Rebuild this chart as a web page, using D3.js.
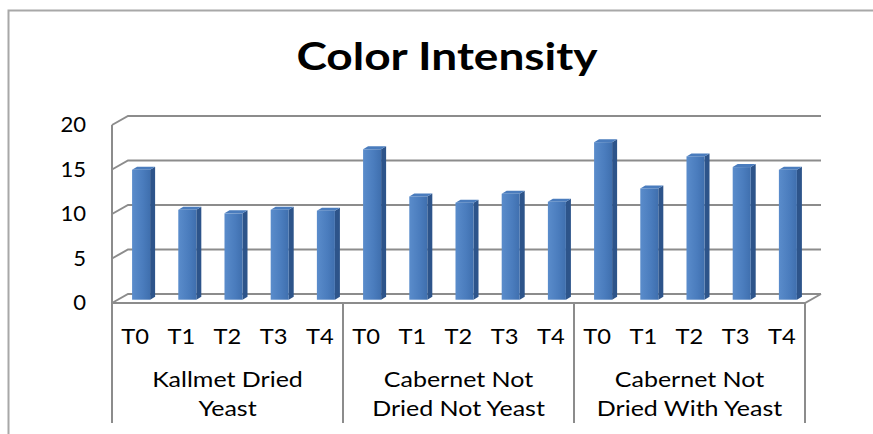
<!DOCTYPE html>
<html>
<head>
<meta charset="utf-8">
<script src="https://cdn.jsdelivr.net/npm/d3@7"></script>
<style>
  html, body { margin: 0; padding: 0; background: #ffffff; }
  svg { display: block; }
  text { font-family: Lato, "Noto Sans", sans-serif; fill: #000; }
</style>
</head>
<body>
<svg id="chart" width="873" height="434"></svg>
<script>
// Sample stages and the three wine treatments
const stages = ["T0", "T1", "T2", "T3", "T4"];
const groupNames = [
  ["Kallmet Dried", "Yeast"],
  ["Cabernet Not", "Dried Not Yeast"],
  ["Cabernet Not", "Dried With Yeast"]
];
// Colour intensity per stage for each treatment
const kallmetDriedYeast = [14.6, 10.1, 9.7, 10.1, 10.0];
const cabernetNotDriedNotYeast = [16.9, 11.6, 10.9, 11.9, 11.0];
const cabernetNotDriedWithYeast = [17.7, 12.5, 16.1, 14.9, 14.6];
const yTicks = [0, 5, 10, 15, 20];
const title = "Color Intensity";

const seriesByGroup = [kallmetDriedYeast, cabernetNotDriedNotYeast, cabernetNotDriedWithYeast];
const rows = [];
seriesByGroup.forEach((vals, g) => vals.forEach((v, i) => rows.push({ key: g + "-" + i, g, stage: stages[i], value: v })));

const svg = d3.select("#chart");

// oblique 3D projection: front plane plus a depth offset toward the back wall
const depth = { dx: 16, dy: -9 };
const x = d3.scaleBand().domain(rows.map(d => d.key)).range([112, 805]).padding(0);
const y = d3.scaleLinear().domain([0, 20]).range([303, 125]);
const gridColor = "#8c8c8c";

// text placed at (cx, cy) and widened horizontally, like the chart's stretched lettering
function wideText(sel, cx, cy, sx) {
  return sel.attr("transform", `translate(${cx},${cy}) scale(${sx},1)`).attr("x", 0).attr("y", 0);
}

// outer chart frame
svg.append("path")
  .attr("d", "M8.5,440 L8.5,10.5 L880,10.5")
  .attr("fill", "none").attr("stroke", "#a8a8a8").attr("stroke-width", 2);

// title
wideText(svg.append("text"), 447, 70, 1.18)
  .attr("text-anchor", "middle")
  .attr("font-weight", "bold").attr("font-size", 39)
  .text(title);

const x0 = x.range()[0], x1 = x.range()[1];

// back-wall gridlines and left-wall diagonals
const grid = svg.append("g").attr("stroke", gridColor).attr("stroke-width", 2).attr("fill", "none");
yTicks.forEach(t => {
  const yf = y(t);
  grid.append("path").attr("d", `M${x0},${yf} L${x0 + depth.dx},${yf + depth.dy} L${x1 + depth.dx},${yf + depth.dy}`);
});
// floor front edge and right edge
grid.append("path").attr("d", `M${x0},${y(0)} L${x1},${y(0)} L${x1 + depth.dx},${y(0) + depth.dy}`);
// left wall front edge
grid.append("path").attr("d", `M${x0},${y(20)} L${x0},${y(0)}`);

// category axis dividers
const groupEdges = [0, 5, 10, 15].map(i => i < 15 ? x(rows[i].key) : x1);
groupEdges.forEach(px => {
  grid.append("line").attr("x1", px).attr("x2", px).attr("y1", y(0)).attr("y2", 423);
});

// y axis labels
svg.append("g").selectAll("text").data(yTicks).join("text")
  .each(function (d) { wideText(d3.select(this), 86, y(d) + 2, 1.05); })
  .attr("text-anchor", "end").attr("dominant-baseline", "middle")
  .attr("font-size", 21)
  .text(d => d);

// bars drawn as three faces: front, side, top
const defs = svg.append("defs");
const grad = defs.append("linearGradient").attr("id", "frontGrad").attr("x1", 0).attr("x2", 1).attr("y1", 0).attr("y2", 0);
grad.append("stop").attr("offset", "0%").attr("stop-color", "#5a8ccb");
grad.append("stop").attr("offset", "60%").attr("stop-color", "#4a7cbd");
grad.append("stop").attr("offset", "100%").attr("stop-color", "#3f6fae");

const barW = x.bandwidth() * 0.39;
const bOff = { dx: 6, dy: -3.3 };   // bar front face sits partway into the depth
const bDepth = { dx: 5, dy: -3 };
const bars = svg.append("g").selectAll("g").data(rows).join("g");
bars.each(function (d) {
  const gEl = d3.select(this);
  const left = x(d.key) + (x.bandwidth() - barW) / 2 + bOff.dx;
  const right = left + barW;
  const bottom = y(0) + bOff.dy;
  const top = y(d.value) + bOff.dy;
  gEl.append("path")
    .attr("d", `M${right},${bottom} L${right + bDepth.dx},${bottom + bDepth.dy} L${right + bDepth.dx},${top + bDepth.dy} L${right},${top} Z`)
    .attr("fill", "#2d548a");
  gEl.append("path")
    .attr("d", `M${left},${top} L${left + bDepth.dx},${top + bDepth.dy} L${right + bDepth.dx},${top + bDepth.dy} L${right},${top} Z`)
    .attr("fill", "#4a7cbd");
  gEl.append("rect")
    .attr("x", left).attr("y", top).attr("width", barW).attr("height", bottom - top)
    .attr("fill", "url(#frontGrad)");
});

// stage labels
svg.append("g").selectAll("text").data(rows).join("text")
  .each(function (d) { wideText(d3.select(this), x(d.key) + x.bandwidth() / 2, 344, 1.13); })
  .attr("text-anchor", "middle").attr("font-size", 21)
  .text(d => d.stage);

// treatment labels, two lines each
const gl = svg.append("g").selectAll("g").data(groupNames).join("g");
gl.each(function (lines, i) {
  const cx = (groupEdges[i] + groupEdges[i + 1]) / 2;
  d3.select(this).selectAll("text").data(lines).join("text")
    .each(function (d, j) { wideText(d3.select(this), cx, 387 + j * 29, 1.19); })
    .attr("text-anchor", "middle").attr("font-size", 21)
    .text(d => d);
});
</script>
</body>
</html>
